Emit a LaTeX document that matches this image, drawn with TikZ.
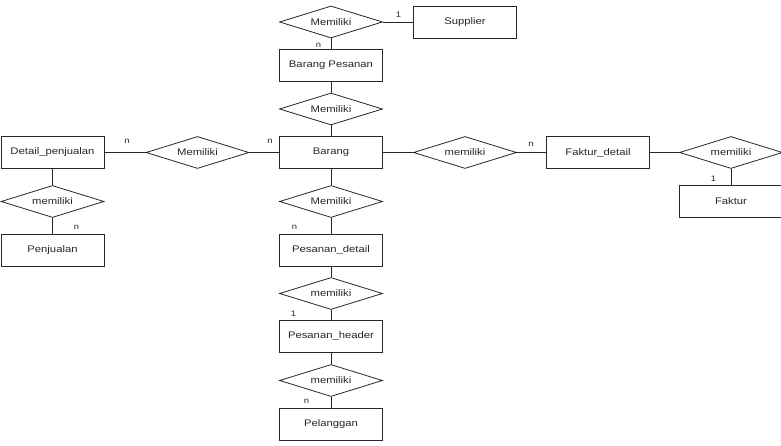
\documentclass[tikz,border=0pt]{standalone}
\usepackage{fontspec}
\setmainfont[FakeStretch=1.18]{Liberation Sans}
\usetikzlibrary{shapes.geometric}
\begin{document}
\begin{tikzpicture}[x=1bp,y=-1bp,
  entity/.style={draw=black!85,line width=0.8bp,rectangle,minimum width=103bp,minimum height=32bp,inner sep=0pt,text=black!85,font=\fontsize{9.6}{10}\selectfont},
  rel/.style={draw=black!85,line width=0.8bp,diamond,shape aspect=3.2,minimum width=103bp,minimum height=32bp,inner sep=0pt,text=black!85,font=\fontsize{9.6}{10}\selectfont},
  card/.style={inner sep=0pt,text=black!85,font=\fontsize{8}{8}\selectfont},
  conn/.style={draw=black!85,line width=0.8bp}]
\useasboundingbox (0,0) rectangle (781,446);
\node[rel] (d1) at (331,22) {Memiliki};
\node[entity] (supplier) at (465,22) {Supplier};
\node[entity] (bp) at (331,65.5) {Barang Pesanan};
\node[rel] (d2) at (331,109) {Memiliki};
\node[entity] (barang) at (331,152.5) {Barang};
\node[rel] (d3) at (197.5,152.5) {Memiliki};
\node[entity] (detail) at (52.5,152.5) {Detail\_penjualan};
\node[rel] (d4) at (52.5,201.5) {memiliki};
\node[entity] (penjualan) at (52.5,250) {Penjualan};
\node[rel] (d5) at (331,201.5) {Memiliki};
\node[entity] (pdetail) at (331,250) {Pesanan\_detail};
\node[rel] (d6) at (331,293.5) {memiliki};
\node[entity] (pheader) at (331,336) {Pesanan\_header};
\node[rel] (d7) at (331,380.5) {memiliki};
\node[entity] (pelanggan) at (331,424) {Pelanggan};
\node[rel] (d8) at (465,152.5) {memiliki};
\node[entity] (fdetail) at (598,152.5) {Faktur\_detail};
\node[rel] (d9) at (731,152.5) {memiliki};
\node[entity] (faktur) at (731,201) {Faktur};

\draw[conn] (d1) -- (supplier);
\draw[conn] (d1) -- (bp);
\draw[conn] (bp) -- (d2);
\draw[conn] (d2) -- (barang);
\draw[conn] (barang) -- (d3);
\draw[conn] (d3) -- (detail);
\draw[conn] (detail) -- (d4);
\draw[conn] (d4) -- (penjualan);
\draw[conn] (barang) -- (d5);
\draw[conn] (d5) -- (pdetail);
\draw[conn] (pdetail) -- (d6);
\draw[conn] (d6) -- (pheader);
\draw[conn] (pheader) -- (d7);
\draw[conn] (d7) -- (pelanggan);
\draw[conn] (barang) -- (d8);
\draw[conn] (d8) -- (fdetail);
\draw[conn] (fdetail) -- (d9);
\draw[conn] (d9) -- (faktur);

\node[card] (c1) at (398.5,14.5) {1};
\node[card] (c2) at (318.5,45.5) {n};
\node[card] (c3) at (270,141.5) {n};
\node[card] (c4) at (127,141.5) {n};
\node[card] (c5) at (76.5,227.5) {n};
\node[card] (c6) at (294.5,227.5) {n};
\node[card] (c7) at (293.5,314) {1};
\node[card] (c8) at (306.5,401.5) {n};
\node[card] (c9) at (531,144.5) {n};
\node[card] (c10) at (713.5,178.5) {1};
\end{tikzpicture}
\end{document}
